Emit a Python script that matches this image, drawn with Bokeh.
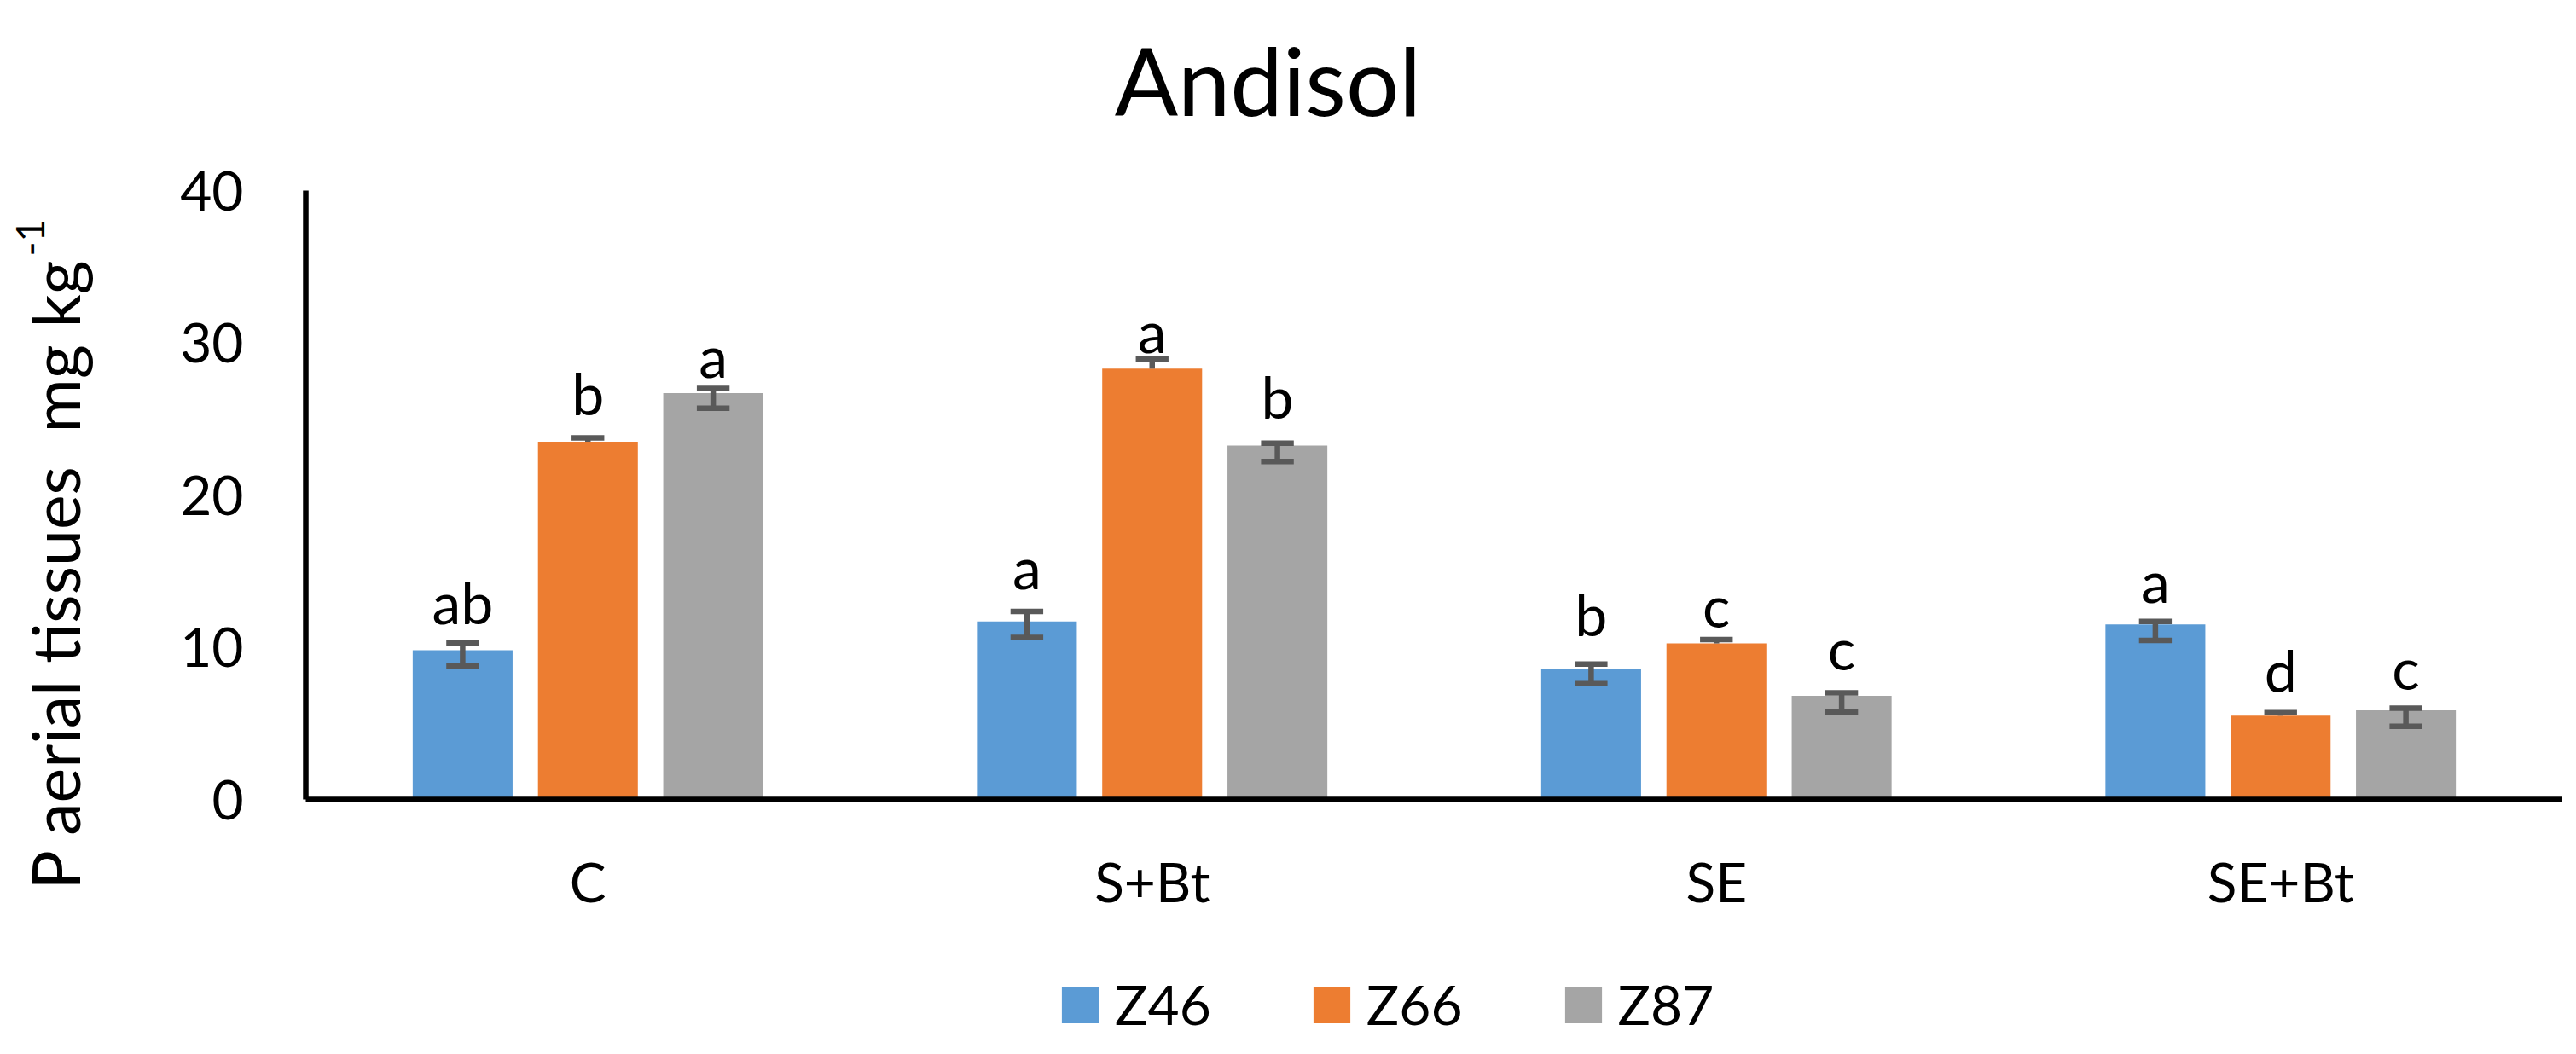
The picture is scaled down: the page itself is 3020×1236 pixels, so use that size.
import math
from bokeh.plotting import figure
from bokeh.models import (ColumnDataSource, Range1d, FixedTicker,
                          Label, Legend, LegendItem)
from bokeh.transform import dodge
from bokeh.core.properties import value
from bokeh.embed import file_html
from bokeh.resources import INLINE

# ---------------- data ----------------
categories = ["C", "S+Bt", "SE", "SE+Bt"]
series_names = ["Z46", "Z66", "Z87"]

z46 = [9.8, 11.7, 8.6, 11.5]
z66 = [23.5, 28.3, 10.25, 5.5]
z87 = [26.7, 23.25, 6.8, 5.85]

z46_hi = [10.3, 12.35, 8.9, 11.7]
z46_lo = [8.75, 10.65, 7.6, 10.45]
z66_hi = [23.75, 28.95, 10.5, 5.7]
z66_lo = [23.5, 28.3, 10.25, 5.5]
z87_hi = [27.0, 23.4, 7.0, 6.0]
z87_lo = [25.7, 22.2, 5.75, 4.8]

z46_letters = ["ab", "a", "b", "a"]
z66_letters = ["b", "a", "c", "d"]
z87_letters = ["a", "b", "c", "c"]
z46_letter_y = [13.0, 15.3, 12.2, 14.4]
z66_letter_y = [26.7, 30.8, 12.8, 8.5]
z87_letter_y = [29.2, 26.5, 10.0, 8.7]

y_ticks = [0, 10, 20, 30, 40]

# ---------------- layout / styling ----------------
W, H = 3004, 1220
PLOT_LEFT, PLOT_RIGHT = 358, 3004      # frame pixels of the axis box
PLOT_TOP, PLOT_BOTTOM = 223, 937
Y_MIN, Y_MAX = 0, 40

n = len(categories)
x_centers = [i + 1 for i in range(n)]
x_lo_b, x_hi_b = 0.5, n + 0.5
ux = (PLOT_RIGHT - PLOT_LEFT) / (x_hi_b - x_lo_b)
uy = (PLOT_BOTTOM - PLOT_TOP) / (Y_MAX - Y_MIN)
X0 = x_lo_b - PLOT_LEFT / ux
X1 = x_hi_b + (W - PLOT_RIGHT) / ux
Y0 = Y_MIN - (H - PLOT_BOTTOM) / uy
Y1 = Y_MAX + PLOT_TOP / uy

colors = ["#5B9BD5", "#ED7D31", "#A5A5A5"]
err_color = "#595959"
FONT = "Lato"
offsets = [-0.222, 0.0, 0.222]
bar_w = 0.177
cap_half = 0.029
show_lower = [True, False, True]

p = figure(width=W, height=H, title=None,
           x_range=Range1d(X0, X1), y_range=Range1d(Y0, Y1),
           output_backend="svg", toolbar_location=None, min_border=0)
p.outline_line_color = None
p.xgrid.grid_line_color = None
p.ygrid.grid_line_color = None
p.background_fill_color = "white"
p.border_fill_color = "white"

for ax in (p.xaxis[0], p.yaxis[0]):
    ax.axis_line_width = 6.5
    ax.axis_line_color = "black"
    ax.major_tick_line_color = None
    ax.minor_tick_line_color = None
    ax.major_tick_out = 0
    ax.major_tick_in = 0
    ax.minor_tick_out = 0
    ax.minor_tick_in = 0
    ax.major_label_text_font = FONT
    ax.major_label_text_font_size = "64px"
    ax.major_label_text_color = "black"

p.yaxis.fixed_location = x_lo_b
p.yaxis.bounds = (Y_MIN, Y_MAX)
p.yaxis.ticker = FixedTicker(ticks=y_ticks)
p.yaxis.major_label_standoff = 73

p.xaxis.fixed_location = Y_MIN
p.xaxis.bounds = (x_lo_b, x_hi_b)
p.xaxis.ticker = FixedTicker(ticks=x_centers)
p.xaxis.major_label_overrides = {c: lab for c, lab in zip(x_centers, categories)}
p.xaxis.major_label_standoff = 57

data = [
    (z46, z46_hi, z46_lo, z46_letters, z46_letter_y),
    (z66, z66_hi, z66_lo, z66_letters, z66_letter_y),
    (z87, z87_hi, z87_lo, z87_letters, z87_letter_y),
]

items = []
for i, (vals, hi, lo, labs, ly) in enumerate(data):
    src = ColumnDataSource(dict(x=x_centers, top=vals, hi=hi, lo=lo,
                                lab=labs, ly=ly))
    off = offsets[i]
    r = p.vbar(x=dodge("x", off), top="top", width=bar_w,
               source=src, fill_color=colors[i], line_color=None)
    items.append(LegendItem(label=series_names[i], renderers=[r]))
    p.segment(x0=dodge("x", off), y0="lo", x1=dodge("x", off), y1="hi",
              source=src, line_color=err_color, line_width=6.5)
    p.segment(x0=dodge("x", off - cap_half), y0="hi",
              x1=dodge("x", off + cap_half), y1="hi",
              source=src, line_color=err_color, line_width=6.5)
    if show_lower[i]:
        p.segment(x0=dodge("x", off - cap_half), y0="lo",
                  x1=dodge("x", off + cap_half), y1="lo",
                  source=src, line_color=err_color, line_width=6.5)
    p.text(x=dodge("x", off), y="ly", text="lab", source=src,
           text_align="center", text_baseline="alphabetic",
           text_font=value(FONT), text_font_size=value("68px"),
           text_color="black")

legend = Legend(items=items, orientation="horizontal", location=(1239, 4),
                glyph_width=54, glyph_height=54, label_standoff=14, spacing=114,
                padding=0, margin=0, border_line_color=None,
                background_fill_alpha=0, label_text_font=FONT,
                label_text_font_size="64px", label_height=54,
                label_text_line_height=0.8,
                label_text_color="black")
p.add_layout(legend, "center")

p.add_layout(Label(x=1486, y=H - 92, x_units="screen", y_units="screen",
                   text="Andisol", text_align="center",
                   text_baseline="alphabetic", text_font=FONT,
                   text_font_size="110px", text_color="black"))
p.add_layout(Label(x=63, y=H - 1043, x_units="screen", y_units="screen",
                   angle=math.pi / 2, text="P aerial tissues \u00a0mg kg",
                   text_align="left", text_baseline="alphabetic",
                   text_font=FONT, text_font_size="77px", text_color="black"))
p.add_layout(Label(x=35, y=H - 300, x_units="screen", y_units="screen",
                   angle=math.pi / 2, text="-1",
                   text_align="left", text_baseline="alphabetic",
                   text_font=FONT, text_font_size="46px", text_color="black"))

open("out.html", "w").write(file_html(p, INLINE))
